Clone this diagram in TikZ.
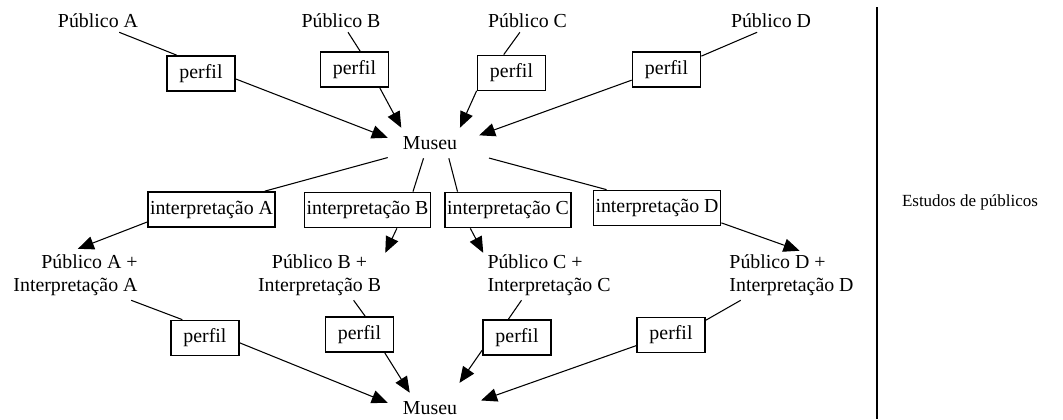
\documentclass[tikz,border=0pt]{standalone}
\usepackage{fontspec}
\setmainfont{Liberation Serif}
\usetikzlibrary{arrows.meta}
\tikzset{%
    txt/.style={font=\fontsize{14.9}{17.25}\selectfont, inner sep=3pt},
    perfilbox/.style={txt, draw, line width=1.3pt,
        minimum width=51pt, minimum height=26.25pt, inner sep=0pt},
    interpbox/.style={txt, draw, line width=1.3pt,
        minimum height=26.25pt, inner xsep=1.5pt, inner ysep=0pt},
    centro/.style={txt, minimum width=63pt, minimum height=22.5pt, inner sep=0pt},
    liga/.style={line width=0.8pt},
    seta/.style={liga, -{Triangle[length=12pt,width=10pt]}}
}

\begin{document}
\begin{tikzpicture}[x=0.75pt, y=-0.75pt]
\useasboundingbox (0,0) rectangle (1063,419);

\node[txt] (pubA) at (98,21) {Público A};
\node[txt] (pubB) at (341,21) {Público B};
\node[txt] (pubC) at (527.5,21) {Público C};
\node[txt] (pubD) at (771,21) {Público D};

\node[perfilbox] (perfA) at (201,73.5) {perfil};
\node[perfilbox] (perfB) at (354.5,69.5) {perfil};
\node[perfilbox] (perfC) at (511.5,73) {perfil};
\node[perfilbox] (perfD) at (666.5,69.5) {perfil};

\node[centro] (mus) at (430,143) {Museu};

\node[interpbox] (intA) at (211.5,209.5) {interpretação A};
\node[interpbox] (intB) at (367.5,210) {interpretação B};
\node[interpbox] (intC) at (508,210) {interpretação C};
\node[interpbox] (intD) at (657,208) {interpretação D};

\node[txt, align=right] (pintA) at (75.5,275.5) {Público A +\\Interpretação A};
\node[txt, align=center] (pintB) at (319.5,275.5) {Público B +\\Interpretação B};
\node[txt, align=left] (pintC) at (549,275.5) {Público C +\\Interpretação C};
\node[txt, align=left] (pintD) at (791.5,275.5) {Público D +\\Interpretação D};

\node[perfilbox] (perfA2) at (205,338) {perfil};
\node[perfilbox] (perfB2) at (359.5,334.5) {perfil};
\node[perfilbox] (perfC2) at (517,337.5) {perfil};
\node[perfilbox] (perfD2) at (671,335) {perfil};

\node[centro] (mus2) at (430,408) {Museu};

\node[txt, font=\fontsize{12.75}{15}\selectfont] (estudos) at (970,202) {Estudos de públicos};

\draw[liga] (pubA.-28) -- (perfA.143);
\draw[seta] (perfA.-9) -- (mus.173);
\draw[liga] (pubB.-58) -- (perfB.73);
\draw[seta] (perfB.-36) -- (mus.152);
\draw[liga] (pubC.-124) -- (perfC.113);
\draw[seta] (perfC.-153) -- (mus.27);
\draw[liga] (pubD.-141) -- (perfD.21);
\draw[seta, shorten >=5.5pt] (perfD.-163) -- (mus.7.5);

\draw[liga] (mus.-161) -- (intA.19);
\draw[liga] (mus.-113) -- (intB.22);
\draw[liga] (mus.-39) -- (intC.160);
\draw[liga, shorten <=13pt] (mus.-14) -- (intD.160);

\draw[seta, shorten >=4pt] (intA.-169) -- (pintA.96);
\draw[seta] (intB.-32) -- (pintB.19.5);
\draw[seta] (intC.-154) -- (pintC.161);
\draw[seta] (intD.-13) -- (pintD.72);

\draw[liga] (pintA.-24) -- (perfA2.141);
\draw[seta] (perfA2.-8) -- (mus2.173);
\draw[liga] (pintB.-36) -- (perfB2.73);
\draw[seta] (perfB2.-36) -- (mus2.143);
\draw[liga] (pintC.-138) -- (perfC2.115);
\draw[seta, shorten >=9pt] (perfC2.-160) -- (mus2.34);
\draw[liga] (pintD.-154) -- (perfD2.23);
\draw[seta, shorten >=7pt] (perfD2.-163) -- (mus2.6.5);

\draw[line width=1.5pt] (877,7) -- (877,419);
\end{tikzpicture}
\end{document}
